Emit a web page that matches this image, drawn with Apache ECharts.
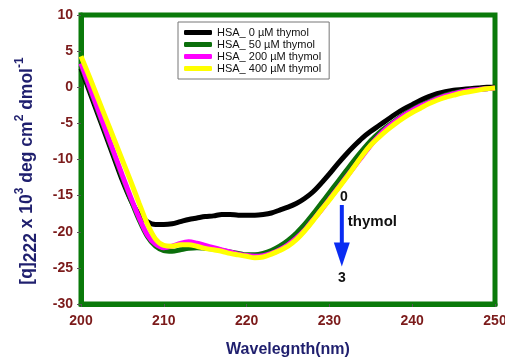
<!DOCTYPE html>
<html>
<head>
<meta charset="utf-8">
<script src="https://cdn.jsdelivr.net/npm/echarts@6/dist/echarts.min.js"></script>
<style>
  html, body {margin: 0; padding: 0; background: #fff;}
  #main {width: 505px; height: 360px;}
</style>
</head>
<body>
<div id="main"></div>
<script>
// wavelength (nm), one point per nm
const wavelengths = [];
for (let w = 200; w <= 250; w++) wavelengths.push(w);

const names = ['HSA_ 0 µM thymol', 'HSA_ 50 µM thymol', 'HSA_ 200 µM thymol', 'HSA_ 400 µM thymol'];
const colors = ['#000000', '#0b6f0b', '#ff00ff', '#ffff00'];

// [θ]222 x 10^3
const thymol0 = [
  2.6, -0.5, -3.6, -6.7, -9.8, -12.9, -15.6, -17.6, -18.6, -19.0,
  -19.0, -18.9, -18.6, -18.3, -18.1, -17.9, -17.8, -17.6, -17.6, -17.7,
  -17.7, -17.7, -17.6, -17.4, -17.0, -16.6, -16.1, -15.4, -14.5, -13.3,
  -12.0, -10.6, -9.3, -8.1, -7.0, -6.1, -5.3, -4.5, -3.7, -3.0,
  -2.4, -1.8, -1.3, -0.9, -0.6, -0.4, -0.3, -0.2, -0.1, 0.0, 0.0
];
const thymol50 = [
  3.0, -0.1, -3.2, -6.3, -9.4, -12.5, -15.5, -18.3, -20.6, -22.0,
  -22.6, -22.7, -22.5, -22.3, -22.2, -22.3, -22.4, -22.6, -22.8, -23.0,
  -23.2, -23.2, -23.0, -22.6, -22.0, -21.2, -20.2, -19.0, -17.6, -16.1,
  -14.6, -13.1, -11.6, -10.1, -8.7, -7.4, -6.3, -5.4, -4.6, -3.8,
  -3.1, -2.5, -2.0, -1.5, -1.1, -0.8, -0.6, -0.4, -0.3, -0.2, -0.1
];
const thymol200 = [
  3.3, 0.2, -2.9, -6.0, -9.1, -12.2, -15.2, -18.0, -20.4, -21.7,
  -22.2, -22.0, -21.6, -21.4, -21.6, -21.9, -22.2, -22.5, -22.8, -23.1,
  -23.3, -23.4, -23.3, -23.0, -22.5, -21.8, -20.9, -19.8, -18.4, -17.0,
  -15.5, -14.0, -12.5, -11.0, -9.5, -8.0, -6.7, -5.6, -4.7, -3.9,
  -3.2, -2.6, -2.1, -1.6, -1.2, -0.9, -0.6, -0.4, -0.3, -0.2, -0.1
];
const thymol400 = [
  4.3, 1.5, -1.4, -4.3, -7.2, -10.1, -13.0, -16.0, -18.9, -21.0,
  -21.9, -22.0, -21.8, -21.8, -22.0, -22.3, -22.5, -22.7, -23.0, -23.2,
  -23.4, -23.6, -23.5, -23.1, -22.6, -22.0, -21.1, -19.9, -18.5, -17.0,
  -15.6, -14.1, -12.6, -11.0, -9.4, -8.0, -6.9, -5.9, -5.0, -4.2,
  -3.5, -2.9, -2.3, -1.8, -1.4, -1.1, -0.8, -0.6, -0.4, -0.2, -0.1
];
const allSeries = [thymol0, thymol50, thymol200, thymol400];

// arrow annotation (data coords)
const arrowX = 231.5;
const arrowTop = -16.3;
const arrowBottom = -24.8;

const font = 'Liberation Sans, Arial, sans-serif';
const tickRed = '#7b1a1a';
const navy = '#1f1f6e';
const frameGreen = '#0a7a0a';

const chart = echarts.init(document.getElementById('main'));

const option = {
  backgroundColor: '#fff',
  animation: false,
  grid: {
    left: 81, right: 10, top: 15, bottom: 56,
    outerBoundsMode: 'none', containLabel: false,
    show: true, borderColor: frameGreen, borderWidth: 5, backgroundColor: 'transparent'
  },
  legend: {
    orient: 'vertical',
    left: 178, top: 22,
    data: names,
    icon: 'roundRect',
    itemWidth: 28, itemHeight: 5,
    itemGap: 1,
    padding: [5, 8, 5, 6],
    borderColor: '#777', borderWidth: 1,
    backgroundColor: '#fff',
    textStyle: {fontFamily: font, fontSize: 11, color: '#111'}
  },
  xAxis: {
    type: 'value', min: 200, max: 250, interval: 10,
    name: 'Wavelegnth(nm)', nameLocation: 'middle', nameGap: 38,
    nameTextStyle: {fontFamily: font, fontSize: 16, fontWeight: 'bold', color: navy},
    axisLine: {show: true, onZero: false, lineStyle: {color: frameGreen, width: 5}},
    axisTick: {show: true, length: 3, lineStyle: {color: '#555'}},
    axisLabel: {fontFamily: font, fontSize: 14, fontWeight: 'bold', color: tickRed, margin: 10},
    splitLine: {show: false}
  },
  yAxis: {
    type: 'value', min: -30, max: 10, interval: 5,
    axisLine: {show: true, onZero: false, lineStyle: {color: frameGreen, width: 5}},
    axisTick: {show: true, length: 4, lineStyle: {color: '#555'}},
    axisLabel: {fontFamily: font, fontSize: 14, fontWeight: 'bold', color: tickRed, margin: 8},
    splitLine: {show: false}
  },
  series: allSeries.map((vals, i) => ({
    name: names[i],
    type: 'line',
    smooth: 0.3,
    showSymbol: false,
    symbol: 'none',
    color: colors[i],
    lineStyle: {width: 5, color: colors[i]},
    data: wavelengths.map((w, k) => [w, vals[k]])
  }))
};
chart.setOption(option);

const pTop = chart.convertToPixel({gridIndex: 0}, [arrowX, arrowTop]);
const pBot = chart.convertToPixel({gridIndex: 0}, [arrowX, arrowBottom]);
const blue = '#0a2cf2';
chart.setOption({
  graphic: [
    {
      type: 'text', x: 27, y: 171, rotation: Math.PI / 2,
      style: {
        text: '[q]{sub|222} x 10{sup|3} deg cm{sup|2} dmol{sup|-1}',
        align: 'center', verticalAlign: 'middle',
        fontFamily: font, fontSize: 17.5, fontWeight: 'bold', fill: navy, lineHeight: 26,
        rich: {
          sub: {fontFamily: font, fontSize: 17.5, fontWeight: 'bold', fill: navy, verticalAlign: 'bottom', lineHeight: 26, padding: [6, 0, 0, 0]},
          sup: {fontFamily: font, fontSize: 12, fontWeight: 'bold', fill: navy, verticalAlign: 'top', lineHeight: 26, padding: [0, 0, 9, 0]}
        }
      }
    },
    {
      type: 'line',
      shape: {x1: pTop[0], y1: pTop[1], x2: pBot[0], y2: pBot[1] - 20},
      style: {stroke: blue, lineWidth: 4}
    },
    {
      type: 'polygon',
      shape: {points: [[pBot[0] - 8, pBot[1] - 24], [pBot[0] + 8, pBot[1] - 24], [pBot[0], pBot[1]]]},
      style: {fill: blue}
    },
    {
      type: 'text', x: pTop[0] + 2, y: pTop[1] - 8,
      style: {text: '0', align: 'center', verticalAlign: 'middle', fontFamily: font, fontSize: 14, fontWeight: 'bold', fill: '#111'}
    },
    {
      type: 'text', x: pTop[0] + 6, y: pTop[1] + 17,
      style: {text: 'thymol', align: 'left', verticalAlign: 'middle', fontFamily: font, fontSize: 15, fontWeight: 'bold', fill: '#111'}
    },
    {
      type: 'text', x: pBot[0], y: pBot[1] + 12,
      style: {text: '3', align: 'center', verticalAlign: 'middle', fontFamily: font, fontSize: 14, fontWeight: 'bold', fill: '#111'}
    }
  ]
});
</script>
</body>
</html>
